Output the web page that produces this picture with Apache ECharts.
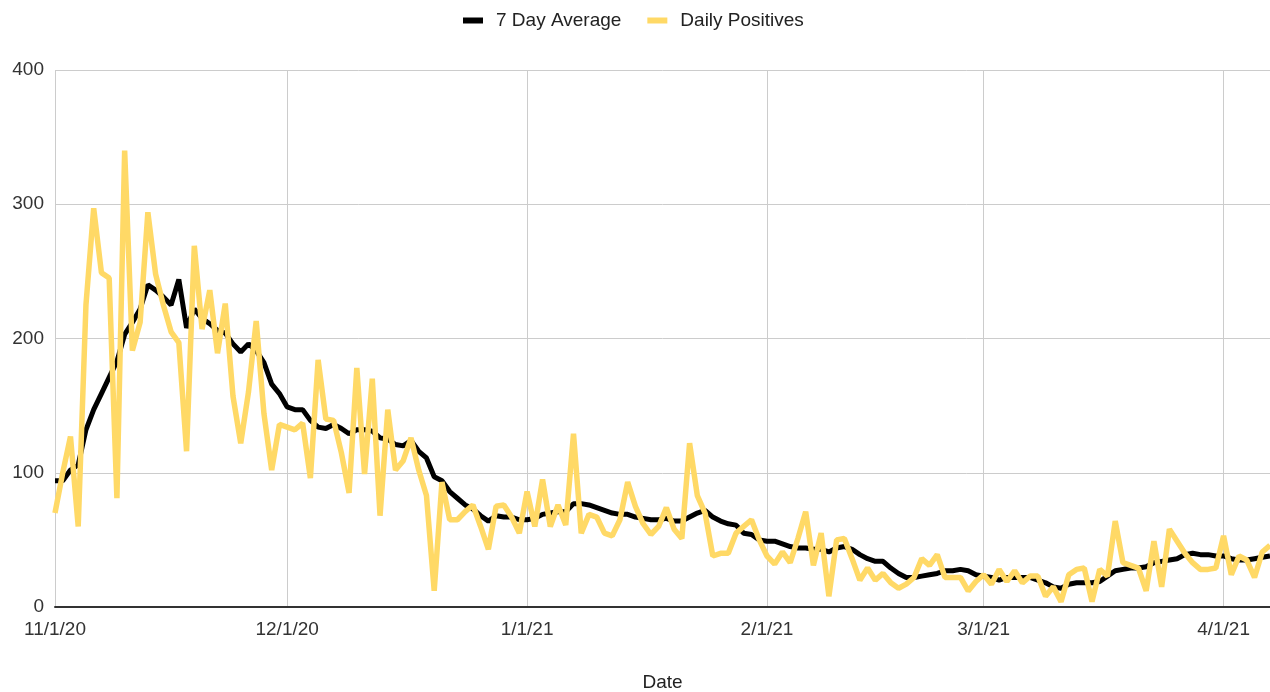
<!DOCTYPE html>
<html>
<head>
<meta charset="utf-8">
<script src="https://cdn.jsdelivr.net/npm/echarts@6/dist/echarts.min.js"></script>
<style>
  html, body { margin: 0; padding: 0; background: #fff; }
  #main { width: 1270px; height: 692px; }
</style>
</head>
<body>
<div id="main"></div>
<script>
// daily values, 11/1/20 .. 4/7/21
var startDate = [2020, 10, 1];
var dayCount = 158;

var avg7 = [
  94, 94, 102, 106, 132, 147, 159, 171, 183, 203,
  212, 222, 240, 236, 231, 225, 244, 208, 222, 215,
  211, 206, 204, 196, 190, 196, 191, 182, 166, 159,
  149, 147, 147, 139, 134, 133, 136, 133, 129, 132,
  132, 131, 126, 125, 121, 120, 124, 116, 111, 97,
  94, 86, 81, 76, 73, 68, 64, 68, 67, 67,
  65, 65, 66, 69, 70, 71, 71, 77, 77, 76,
  74, 72, 70, 69, 69, 67, 66, 65, 65, 66,
  64, 64, 67, 70, 72, 67, 64, 62, 61, 55,
  54, 50, 49, 49, 47, 45, 44, 44, 43, 43,
  41, 44, 45, 43, 39, 36, 34, 34, 29, 25,
  22, 22, 23, 24, 25, 27, 27, 28, 27, 24,
  23, 22, 20, 22, 22, 22, 22, 20, 18, 15,
  14, 17, 18, 18, 18, 19, 23, 27, 28, 29,
  29, 30, 33, 34, 35, 36, 39, 40, 39, 39,
  38, 38, 36, 35, 35, 36, 37, 38
];

var dailyPositives = [
  70, 100, 127, 60, 225, 297, 249, 245, 81, 340,
  191, 212, 294, 248, 225, 205, 197, 116, 269, 207,
  236, 189, 226, 157, 122, 160, 213, 144, 102, 136,
  134, 132, 137, 96, 184, 140, 139, 115, 85, 178,
  99, 170, 68, 147, 102, 109, 126, 102, 83, 12,
  93, 65, 65, 71, 76, 60, 43, 75, 76, 67,
  55, 86, 60, 95, 60, 76, 61, 129, 55, 69,
  67, 55, 53, 65, 93, 75, 62, 54, 60, 74,
  58, 51, 122, 83, 70, 38, 40, 40, 55, 60,
  65, 50, 38, 32, 41, 33, 51, 71, 31, 55,
  8, 50, 51, 36, 20, 29, 20, 25, 18, 14,
  17, 22, 36, 31, 39, 22, 22, 22, 12, 19,
  24, 17, 28, 19, 27, 18, 23, 23, 8, 15,
  4, 24, 28, 29, 4, 28, 23, 64, 33, 31,
  29, 12, 49, 15, 58, 49, 40, 33, 28, 28,
  29, 53, 24, 38, 35, 22, 41, 46
];

var yTicks = { min: 0, max: 400, step: 100 };

// date labels like 11/1/20
var dates = [];
for (var i = 0; i < dayCount; i++) {
  var d = new Date(startDate[0], startDate[1], startDate[2] + i);
  dates.push((d.getMonth() + 1) + '/' + d.getDate() + '/' + String(d.getFullYear()).slice(2));
}

function isMonthStart(idx, val) {
  return /^\d+\/1\//.test(val);
}

var chart = echarts.init(document.getElementById('main'), null, { renderer: 'canvas' });

var option = {
  backgroundColor: '#fff',
  textStyle: { fontFamily: 'Liberation Sans, Arial, sans-serif' },
  legend: {
    top: 6,
    left: 458,
    icon: 'rect',
    itemWidth: 20,
    itemHeight: 6,
    itemGap: 26,
    textStyle: { fontSize: 19, color: '#222', padding: [0, 0, 0, 8] },
    data: ['7 Day Average', 'Daily Positives']
  },
  grid: { left: 55, right: 0, top: 70, bottom: 85, containLabel: false, outerBoundsMode: 'none' },
  xAxis: {
    type: 'category',
    data: dates,
    boundaryGap: false,
    name: 'Date',
    nameLocation: 'middle',
    nameGap: 66,
    nameTextStyle: { fontSize: 19, color: '#222' },
    axisLine: { lineStyle: { color: '#333', width: 2 } },
    axisTick: { show: false },
    axisLabel: { interval: isMonthStart, fontSize: 19, color: '#333', margin: 13 },
    splitLine: { show: true, interval: isMonthStart, lineStyle: { color: '#ccc', width: 1 } }
  },
  yAxis: {
    type: 'value',
    min: yTicks.min,
    max: yTicks.max,
    interval: yTicks.step,
    axisLine: { show: false },
    axisTick: { show: false },
    axisLabel: { fontSize: 19, color: '#333', margin: 11 },
    splitLine: { lineStyle: { color: '#ccc', width: 1 } }
  },
  series: [
    {
      name: '7 Day Average',
      type: 'line',
      data: avg7,
      symbol: 'none',
      itemStyle: { color: '#000' },
      lineStyle: { color: '#000', width: 5 }
    },
    {
      name: 'Daily Positives',
      type: 'line',
      data: dailyPositives,
      symbol: 'none',
      itemStyle: { color: '#ffd966' },
      lineStyle: { color: '#ffd966', width: 5.5 }
    }
  ]
};

chart.setOption(option);
</script>
</body>
</html>
